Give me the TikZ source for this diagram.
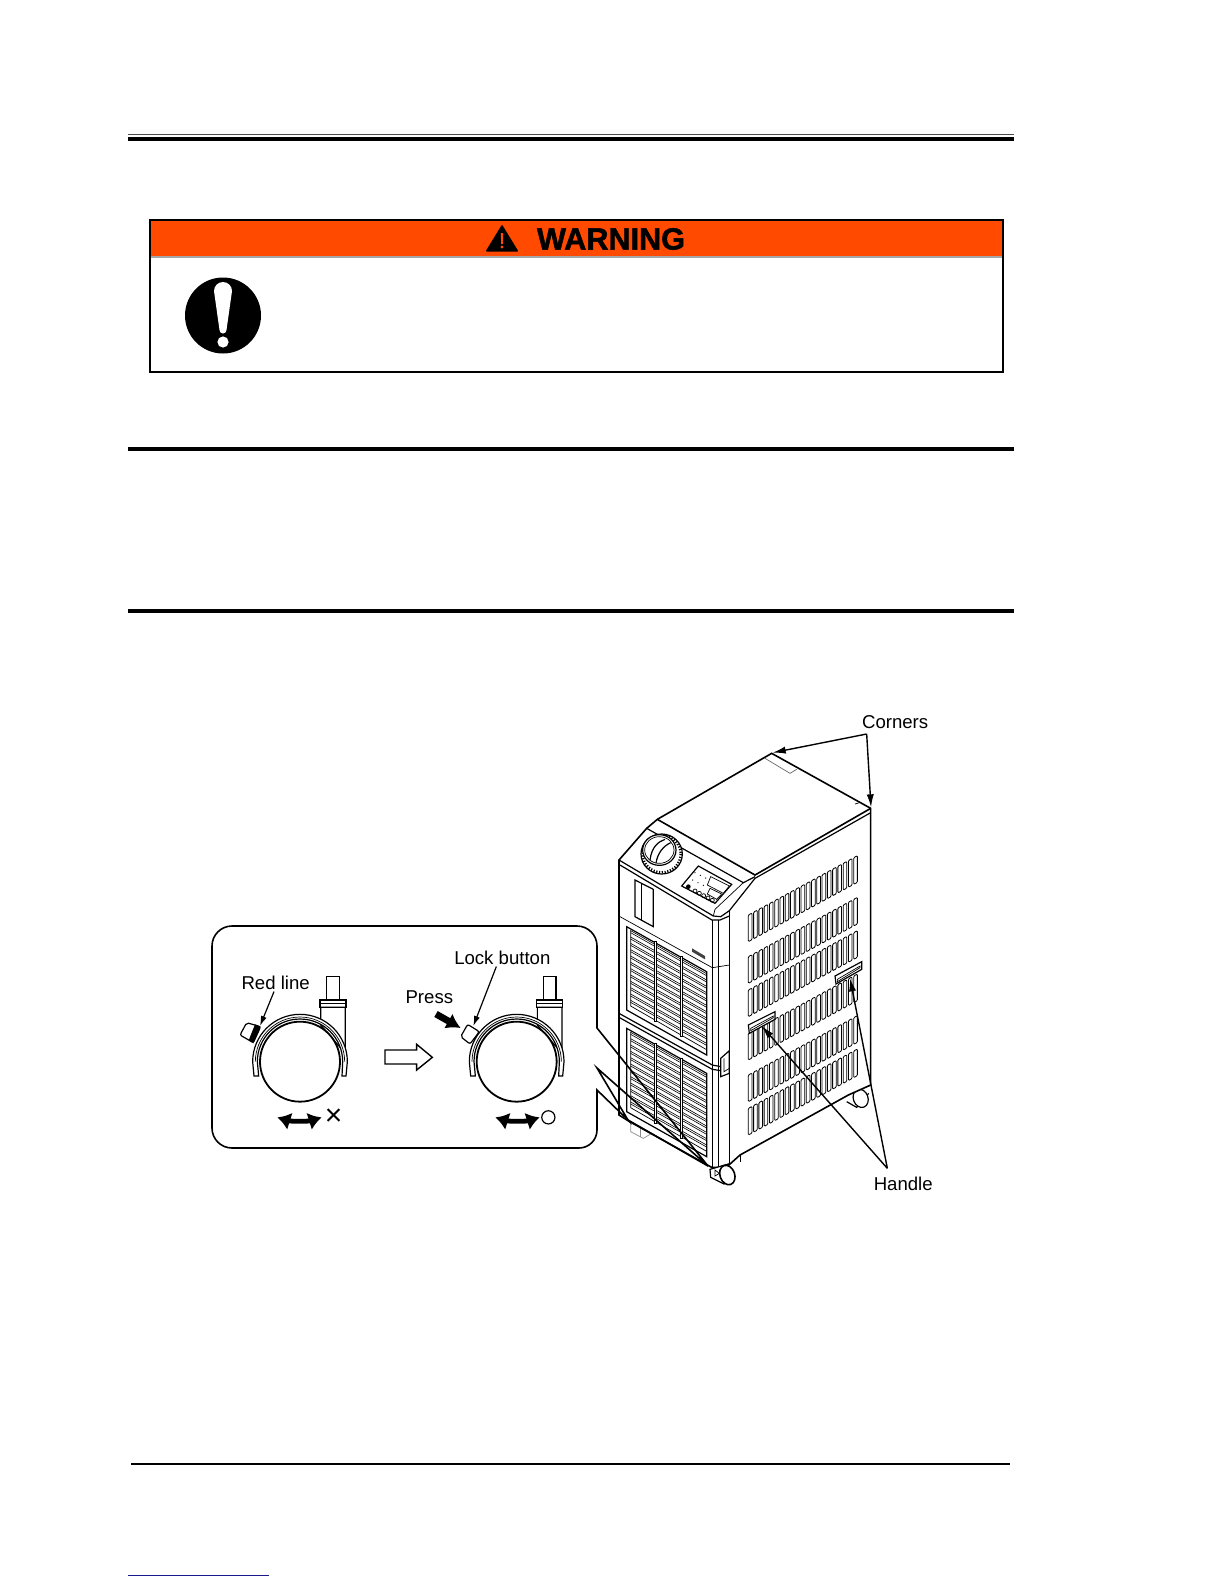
\documentclass[tikz,border=0pt]{standalone}
\usepackage{fontspec}
\setmainfont{Liberation Sans}
\newfontfamily\warnfont[BoldFeatures={FakeBold=1.6}]{Liberation Sans}
\usetikzlibrary{arrows.meta,calc}
\definecolor{warnorange}{HTML}{FF4A00}
\definecolor{linkblue}{HTML}{1A1A8C}
\tikzset{
 lbl/.style={inner sep=0pt,font=\fontsize{9.3}{11}\selectfont},
 rulethick/.style={line width=2pt,black},
 thinl/.style={line width=.35pt,black},
 midl/.style={line width=.6pt,black},
 edgel/.style={line width=.8pt,black},
 leader/.style={line width=.7pt,black,-{Latex[length=6.5pt,width=3.6pt]}},
 swing/.style={line width=2.4pt,{Latex[length=6.5pt,width=9pt]}-{Latex[length=6.5pt,width=9pt]}},
 slat/.style={line width=.4pt,black,fill=white,rounded corners=.5pt},
 pics/casterwheel/.style={code={
  \draw[midl,fill=white] (380,200) rectangle (418,270);
  \draw[midl,fill=white] (360,270) rectangle (438,292);
  \draw[thinl] (360,280) -- (438,280);
  \draw[midl,fill=white] (362,292) -- (362,345) -- (436,430) -- (436,292) -- cycle;
  \draw[midl,fill=white] (162,498) -- (158,455) arc[start angle=180,end angle=360,x radius=142,y radius=142] -- (438,498) -- (426,498) -- (428,455) arc[start angle=360,end angle=180,x radius=128,y radius=128] -- (176,498) -- cycle;
  \draw[thinl] (166,455) arc[start angle=180,end angle=360,x radius=134,y radius=134];
  \draw[line width=.9pt,fill=white] (300,455) circle[radius=120];
 }}
}
\begin{document}
\begin{tikzpicture}[x=0.5pt,y=-0.5pt]
\useasboundingbox (0,0) rectangle (1224,1584);
% page rules
\draw[line width=.6pt,black!70] (128,134.5) -- (1014,134.5);
\draw[line width=2.2pt] (128,139) -- (1014,139);
\draw[rulethick] (128,449) -- (1014,449);
\draw[rulethick] (128,611) -- (1014,611);
\draw[line width=1.1pt] (131,1464) -- (1010,1464);
\draw[line width=.6pt,linkblue] (128,1575.5) -- (269,1575.5);
% warning box
\fill[warnorange] (150,221) rectangle (1003,255.5);
\draw[line width=.6pt,black!35] (150,257) -- (1003,257);
\draw[line width=.9pt] (150,220) rectangle (1003,372);
\node[inner sep=0pt,font=\warnfont\fontsize{15.3}{17}\selectfont\bfseries] (warn) at (611,239) {WARNING};
\fill[black,rounded corners=.5pt] (502,224.5) -- (518.5,251.5) -- (485.5,251.5) -- cycle;
\fill[warnorange] (500.8,233) -- (503.2,233) -- (502.8,244) -- (501.2,244) -- cycle;
\fill[warnorange] (502,247) circle[radius=1.6];
\fill[black] (223,315.5) circle[radius=38];
\fill[white] (214,291) arc[start angle=180,end angle=360,radius=9] -- (226.5,330) arc[start angle=0,end angle=180,radius=3.5] -- cycle;
\fill[white] (223,342) circle[radius=5.6];

% ===== machine =====
\begin{scope}[shift={(600,700)},x=.16667pt,y=-.16667pt]
 % far wheel behind
 \draw[thinl,black!45] (92,1270) -- (92,1295) -- (130,1315) -- (155,1300) -- (155,1285);
 \draw[thinl,black!45] (122,1285) -- (122,1312);
 % rear wheel
 \draw[midl,fill=white] (740,1205) -- (770,1222) -- (806,1180);
 \draw[midl,fill=white,rotate around={20:(782,1195)}] (782,1195) ellipse[x radius=22,y radius=28];
 % body faces
 \draw[edgel,fill=white] (57,480) -- (57,1245) -- (84,1262) -- (335,1402) -- (355,1402) -- (390,1392) -- (420,1365) -- (745,1185) -- (812,1155) -- (812,325) -- (515,160) -- (172,358) -- (140,385) -- cycle;
 % top panel
 \draw[edgel] (172,358) -- (465,525) -- (812,325);
 \draw[thinl,black!60] (495,175) -- (570,220) -- (590,208);
 \draw[thinl] (765,312) -- (778,308);
 \draw[midl] (140,385) -- (430,548) -- (465,530);
 % chamfered front head
 \draw[midl] (57,480) -- (340,648) -- (362,650) -- (388,632) -- (465,535) -- (812,338);
 \draw[midl] (60,495) -- (336,660) -- (360,660) -- (388,648);
 \draw[thinl] (388,632) -- (388,1392);
 \draw[midl] (337,660) -- (337,1402);
 \draw[midl] (355,660) -- (355,1402);
 \draw[thinl] (430,548) -- (345,628) -- (340,648);
 \draw[thinl] (420,1365) -- (420,1385);
 % recess left of head
 \draw[midl,fill=white] (105,540) -- (160,568) -- (160,680) -- (105,650) -- cycle;
 \draw[thinl] (125,552) -- (125,660);
 \draw[thinl] (60,650) -- (337,803) -- (388,795);
 % separators
 \draw[midl] (57,940) -- (337,1095) -- (388,1105);
 \draw[midl] (57,952) -- (337,1108) -- (385,1115);
 % latch
 \draw[midl,fill=white] (362,1075) -- (388,1052) -- (388,1120) -- (362,1130) -- cycle;
 \draw[thinl] (372,1075) -- (372,1115) -- (388,1105);
 % front grilles
 \foreach \t in {680,985}{
  \draw[midl] (80,\t) -- (320,{\t+135}) -- (320,{\t+385}) -- (80,{\t+250}) -- cycle;
  \draw[thinl] (92,{\t+10}) -- (92,{\t+238}) -- (318,{\t+368});
  \foreach \j in {0,...,11}{
   \draw[line width=.3pt] (92,{\t+12+\j*19}) -- (318,{\t+140+\j*19});
   \draw[line width=.3pt] (92,{\t+18+\j*19}) -- (318,{\t+146+\j*19});
  }
  \draw[thinl,fill=white] (162,{\t+45}) rectangle (169,{\t+285});
  \draw[thinl,fill=white] (240,{\t+90}) rectangle (247,{\t+330});
 }
 % side vents
 \foreach \r in {645,770,870,1000,1125,1225}{
  \foreach \i in {0,...,20}{
   \draw[slat] ({445+\i*15.8},{\r-\i*8.6}) -- ({456+\i*15.8},{\r-\i*8.6-6}) -- ({456+\i*15.8},{\r-\i*8.6+74}) -- ({445+\i*15.8},{\r-\i*8.6+80}) -- cycle;
  }
 }
 % handles
 \draw[midl,fill=white] (445,975) -- (525,935) -- (525,958) -- (448,1000) -- cycle;
 \draw[thinl] (452,985) -- (520,948) -- (520,953) -- (452,992) -- cycle;
 \draw[midl,fill=white] (705,828) -- (785,785) -- (785,808) -- (708,852) -- cycle;
 \draw[thinl] (712,838) -- (780,798) -- (780,803) -- (712,845) -- cycle;
 % knob
 \draw[midl,fill=white] (185,462) ellipse[x radius=62,y radius=60];
 \draw[thinl,dash pattern=on .6pt off .8pt,line width=1.2pt] (185,462) ellipse[x radius=57,y radius=55];
 \draw[midl,fill=white] (178,450) ellipse[x radius=50,y radius=46];
 \draw[thinl] (178,450) ellipse[x radius=44,y radius=40];
 \draw[midl] (150,480) .. controls (155,440) and (175,425) .. (195,418);
 \draw[midl] (168,490) .. controls (172,460) and (190,438) .. (212,428);
 % control panel
 \draw[midl] (295,498) -- (395,553) -- (345,610) -- (245,558) -- cycle;
 \draw[thinl] (332,530) -- (388,558) -- (370,580) -- (322,555) -- cycle;
 \draw[thinl] (330,565) -- (365,582) -- (350,598) -- (322,582) -- cycle;
 \fill (265,560) circle[radius=7];
 \foreach \i in {0,...,4}{\draw[thinl] ({285+\i*13},{573+\i*7}) circle[radius=6];}
 \foreach \i in {0,1,2}{\fill ({285+\i*16},{518+\i*8}) circle[radius=2]; \fill ({278+\i*16},{540+\i*8}) circle[radius=2];}
 % logo
 \fill[black!75] (276,745) -- (315,768) -- (315,778) -- (276,755) -- cycle;
 % front wheel
 \draw[midl,fill=white] (330,1408) -- (385,1392) -- (400,1430) -- (372,1452) -- (332,1432) -- cycle;
 \draw[thinl] (345,1410) -- (358,1420) -- (345,1428) -- cycle;
 \draw[edgel,fill=white,rotate around={20:(382,1425)}] (382,1425) ellipse[x radius=22,y radius=30];
 % callouts
 \node[lbl,anchor=west] (corners) at (785,65) {Corners};
 \node[lbl,anchor=west] (handle) at (820,1450) {Handle};
 \coordinate (cj) at (800,102);
 \coordinate (cback) at (518,158);
 \coordinate (cright) at (813,322);
 \coordinate (hj) at (862,1405);
 \coordinate (hleft) at (485,978);
 \coordinate (hright) at (750,835);
 \draw[leader] (cj) -- (cback);
 \draw[leader] (cj) -- (cright);
 \draw[leader] (hj) -- (hleft);
 \draw[leader] (hj) -- (hright);
\end{scope}

% ===== inset callout =====
\coordinate (tipa) at (708,1166);
\coordinate (tipb) at (628,1120);
\draw[line width=.8pt] (232,926) -- (577,926) arc[start angle=270,end angle=360,radius=20] -- (597,1028) -- (tipa) -- (597,1068) -- (tipb) -- (597,1090) -- (597,1130) arc[start angle=0,end angle=90,radius=18] -- (232,1148) arc[start angle=90,end angle=180,radius=20] -- (212,946) arc[start angle=180,end angle=270,radius=20];
\draw[line width=.8pt] (tipb) -- (tipa);
\begin{scope}[shift={(200,910)},x=.16667pt,y=-.16667pt]
 % left caster
 \draw[midl,fill=white,rounded corners=1pt] (140,338) -- (120,375) -- (160,398) -- (182,350) -- cycle;
 \fill[black] (165,343) -- (182,350) -- (160,400) -- (146,391) -- cycle;
 \pic {casterwheel};
 % right caster
 \draw[midl,fill=white,rounded corners=1pt] (803,343) -- (782,380) -- (810,402) -- (838,365) -- cycle;
 \begin{scope}[shift={(650,0)}]
  \pic {casterwheel};
 \end{scope}
 % labels and leaders
 \node[lbl] (redline) at (227,218) {Red line};
 \node[lbl] (lockbtn) at (907,143) {Lock button};
 \node[lbl] (press) at (688,263) {Press};
 \coordinate (redtip) at (180,348);
 \coordinate (locktip) at (820,348);
 \draw[line width=.6pt,-{Latex[length=5pt,width=3pt]}] (redline.south) ++(-5,5) -- (redtip);
 \draw[line width=.6pt,-{Latex[length=5pt,width=3pt]}] (lockbtn.south) ++(-18,5) -- (locktip);
 % press arrow
 \coordinate (pressa) at (708,312);
 \coordinate (pressb) at (782,354);
 \draw[line width=3.4pt,-{Latex[length=7pt,width=8.5pt]}] (pressa) -- (pressb);
 % block arrow
 \draw[line width=.7pt,fill=white] (555,420) -- (650,420) -- (650,403) -- (697,442) -- (650,480) -- (650,462) -- (555,462) -- cycle;
 % swing arrows
 \coordinate (sa) at (232,622); \coordinate (sb) at (365,622);
 \draw[swing] (sa) .. controls (270,634) and (327,634) .. (sb);
 \coordinate (sc) at (886,622); \coordinate (sd) at (1019,622);
 \draw[swing] (sc) .. controls (924,634) and (981,634) .. (sd);
 \node[inner sep=0pt,font=\fontsize{15}{15}\selectfont] (xmark) at (401,621) {×};
 \node[draw,circle,line width=.6pt,minimum size=6.6pt,inner sep=0pt] (okmark) at (1045,622) {};
\end{scope}
\end{tikzpicture}
\end{document}
